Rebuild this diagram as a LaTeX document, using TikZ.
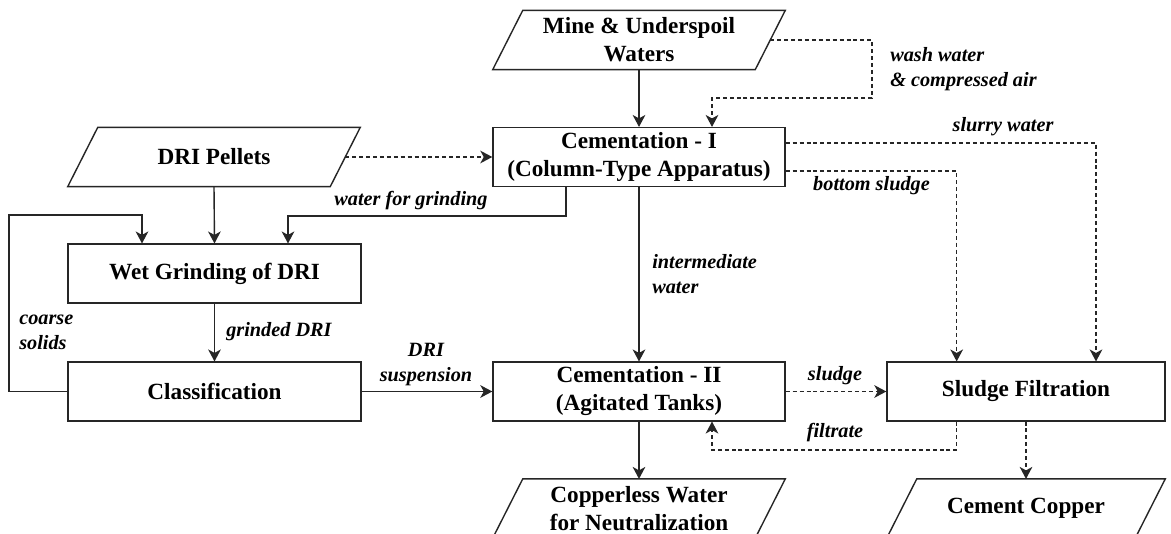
\documentclass[tikz,border=0pt]{standalone}
\usepackage{fontspec}
\setmainfont{Liberation Serif}
\usetikzlibrary{arrows.meta}
\newcommand{\boxfont}{\fontsize{17.4pt}{21pt}\selectfont\bfseries}
\newcommand{\labfont}{\fontsize{15.2pt}{18.75pt}\selectfont\bfseries\itshape}
\begin{document}
\begin{tikzpicture}[x=0.75pt,y=-0.75pt,
  ink/.style={draw=black!85, line width=1.05pt},
  flow/.style={ink, -{Stealth[length=9pt,width=9.5pt,inset=2.6pt]}},
  aux/.style={flow, dash pattern=on 3pt off 2.2pt},
  proc/.style={ink, fill=white, rectangle, minimum width=219pt, minimum height=44pt,
    inner sep=0pt, align=center, font=\boxfont},
  io/.style={rectangle, minimum width=219pt, minimum height=44pt,
    inner sep=0pt, align=center, font=\boxfont},
  lab/.style={inner sep=0pt, font=\labfont},
]
\useasboundingbox (0,0) rectangle (1171,534);
\fill[white] (0,0) rectangle (1171,534);
\clip (0,0) rectangle (1171,534);

% process boxes
\node[proc] (cem1) at (639,157) {Cementation - I\\(Column-Type Apparatus)};
\node[proc, minimum width=219.5pt] (wet) at (214.5,273.5) {Wet Grinding of DRI};
\node[proc, minimum width=219.5pt] (cls) at (214.5,391.5) {Classification};
\node[proc] (cem2) at (639,391.5) {Cementation - II\\(Agitated Tanks)};
\node[proc, minimum width=208.5pt] (filt) at (1026,391.5) {Sludge Filtration};

% inputs and outputs (parallelograms)
\node[io] (mine) at (639,40) {Mine \& Underspoil\\Waters};
\node[io] (dri) at (214,157) {DRI Pellets};
\node[io] (cless) at (639,508.5) {Copperless Water\\for Neutralization};
\node[io, minimum width=208.5pt] (ccu) at (1026,508.5) {Cement Copper};
\foreach \n in {mine,dri,cless,ccu}
  \draw[ink] ([xshift=22.5pt]\n.north west) -- (\n.north east)
    -- ([xshift=-22.5pt]\n.south east) -- (\n.south west) -- cycle;

% helper corners
\coordinate (wash) at (872,98);
\coordinate (wg) at (288,216);
\coordinate (loopL) at (9,215);
\coordinate (loopR) at (142,215);
\coordinate (ft) at (712,450);

% solid flows
\draw[flow] (mine.south) -- (cem1.north);
\draw[flow] (dri.south) -- (wet.north);
\draw[flow] ([xshift=-54.75pt]cem1.south) |- (wg) -- (wg |- wet.north);
\draw[flow] (cls.west) -| (loopL) -- (loopR) -- (loopR |- wet.north);
\draw[flow] (wet.south) -- (cls.north);
\draw[flow] (cls.east) -- (cem2.west);
\draw[flow] (cem1.south) -- (cem2.north);
\draw[flow] (cem2.south) -- (cless.north);

% dashed flows
\draw[aux] ([xshift=-11.25pt]mine.east) -| (wash) -| ([xshift=54.75pt]cem1.north);
\draw[aux] ([xshift=-11.25pt]dri.east) -- (cem1.west);
\draw[aux] ([yshift=10.5pt]cem1.east) -| ([xshift=52.5pt]filt.north);
\draw[aux] ([yshift=-10.5pt]cem1.east) -| ([xshift=-52pt]filt.north);
\draw[aux] (cem2.east) -- (filt.west);
\draw[aux] ([xshift=-52pt]filt.south) |- (ft) -- (ft |- cem2.south);
\draw[aux] (filt.south) -- (ccu.north);

% flow labels
\node[lab, anchor=west, align=left] (lwash) at (890,69.5) {wash water\\\& compressed air};
\node[lab] (lslurry) at (1003,127) {slurry water};
\node[lab] (lbottom) at (871.5,186) {bottom sludge};
\node[lab] (lgrind) at (411,201) {water for grinding};
\node[lab, anchor=west, align=left] (linter) at (652,274.5) {intermediate\\water};
\node[lab, anchor=west, align=left] (lcoarse) at (19,332.5) {coarse\\solids};
\node[lab, anchor=west] (lgrinded) at (226,332) {grinded DRI};
\node[lab, align=center] (lsusp) at (426,365) {DRI\\suspension};
\node[lab] (lsludge) at (835,376) {sludge};
\node[lab] (lfilt) at (835,433) {filtrate};
\end{tikzpicture}
\end{document}
